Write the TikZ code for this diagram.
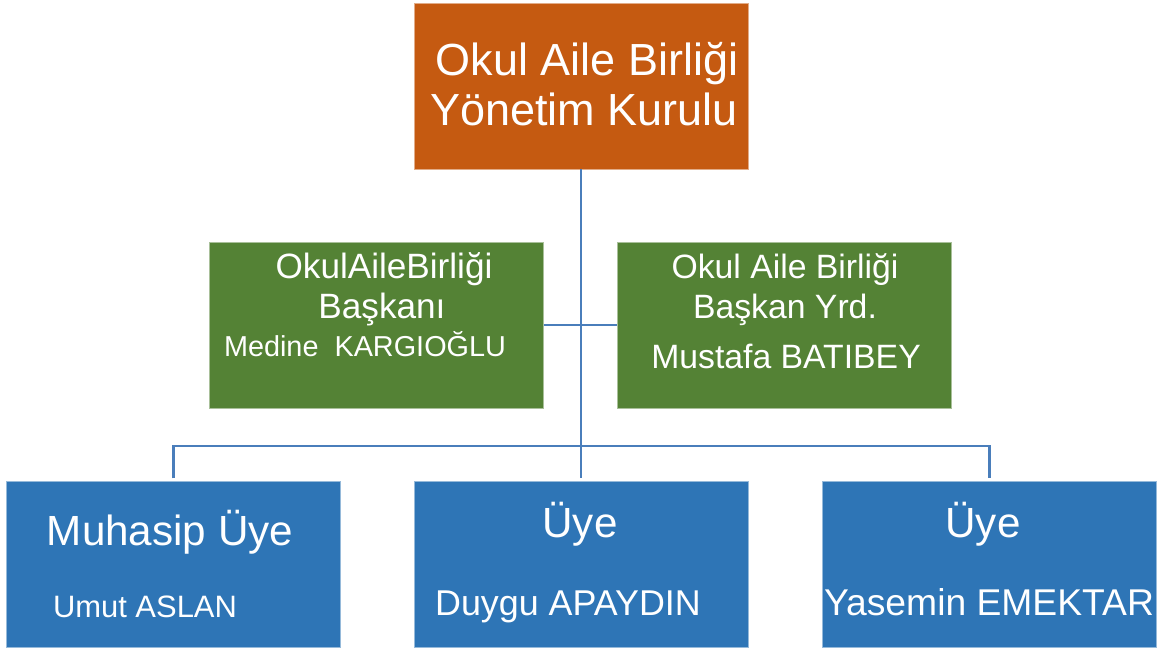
\documentclass[tikz,border=0pt]{standalone}
\usepackage{fontspec}
\setmainfont{Liberation Sans}
\definecolor{kurul}{HTML}{C55A11}
\definecolor{baskan}{HTML}{548235}
\definecolor{uye}{HTML}{2E75B6}
\definecolor{hat}{HTML}{4A7EBB}
\newcommand{\fs}[1]{\fontsize{#1}{#1}\selectfont}

\begin{document}
\begin{tikzpicture}[x=0.025cm,y=-0.025cm]
    \tikzstyle{kutu}=[rectangle, minimum width=8.35cm, minimum height=4.15cm, inner sep=0pt, line width=0.6pt]
    \tikzstyle{yazi}=[anchor=base, text=white, inner sep=0pt]
    \tikzstyle{hatc}=[draw=hat, line width=2pt]
    \useasboundingbox (0,0) rectangle (1157,651);
    \node[kutu, fill=kurul, draw=kurul!50!white] (kurul) at (581,86) {};
    \node[kutu, fill=baskan, draw=baskan!50!white] (baskan) at (376.5,325) {};
    \node[kutu, fill=baskan, draw=baskan!50!white] (yrd) at (784,325) {};
    \node[kutu, fill=uye, draw=uye!50!white] (muhasip) at (173.5,564) {};
    \node[kutu, fill=uye, draw=uye!50!white] (duygu) at (581,564) {};
    \node[kutu, fill=uye, draw=uye!50!white] (emektar) at (989.5,564) {};
    % yazilar
    \node[yazi] (k1) at (587,75) {\fs{32}Okul Aile Birliği};
    \node[yazi] (k2) at (584,125) {\fs{32}Yönetim Kurulu};
    \node[yazi] (b1) at (384,278) {\fs{25}OkulAileBirliği};
    \node[yazi] (b2) at (382,318) {\fs{25}Başkanı};
    \node[yazi] (b3) at (365,356) {\fs{20.5}Medine\ \ KARGIOĞLU};
    \node[yazi] (y1) at (785,278) {\fs{24}Okul Aile Birliği};
    \node[yazi] (y2) at (785,318) {\fs{24}Başkan Yrd.};
    \node[yazi] (y3) at (786,368) {\fs{24}Mustafa BATIBEY};
    \node[yazi] (m1) at (170,545) {\fs{30}Muhasip Üye};
    \node[yazi] (m2) at (145,617) {\fs{22}Umut ASLAN};
    \node[yazi] (d1) at (580,537) {\fs{30}Üye};
    \node[yazi] (d2) at (568,615) {\fs{25.5}Duygu APAYDIN};
    \node[yazi] (e1) at (983,537) {\fs{30}Üye};
    \node[yazi] (e2) at (989,615) {\fs{26.5}Yasemin EMEKTAR};
    % baglantilar
    \coordinate (bus) at (581,446);
    \draw[hatc, shorten >=1.5pt] (kurul) -- (duygu);
    \draw[hatc] (baskan) -- (yrd);
    \draw[hatc, shorten <=1.5pt, shorten >=1.5pt] (muhasip.north) |- (bus) -| (emektar.north);
\end{tikzpicture}
\end{document}
